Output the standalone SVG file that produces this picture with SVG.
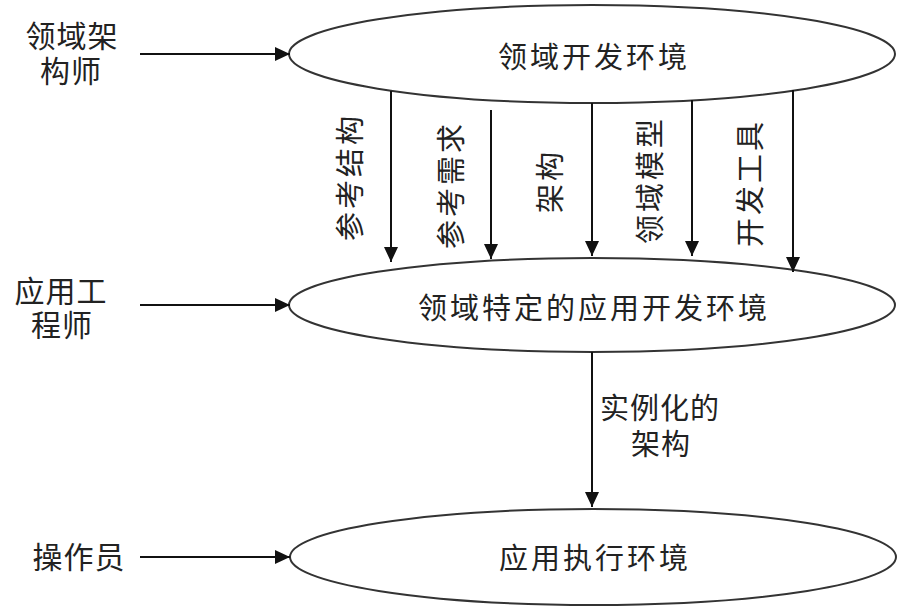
<svg xmlns="http://www.w3.org/2000/svg" width="909" height="612" viewBox="0 0 909 612">
<style>
.t{font-family:"Noto Sans CJK SC","Noto Sans",sans-serif;font-size:29px;fill:#222;letter-spacing:3px;text-anchor:middle;dominant-baseline:central}
.l{font-size:30px;letter-spacing:1px}
.e{fill:#fff;stroke:#333;stroke-width:2}
.c{stroke:#111;stroke-width:2;fill:none}
</style>
<defs>
<marker id="ah" markerUnits="userSpaceOnUse" markerWidth="15" markerHeight="14" refX="15" refY="7" orient="auto">
<path d="M0,0 L15,7 L0,14 z" fill="#111"/>
</marker>
</defs>
<rect width="909" height="612" fill="#fff"/>
<g id="n-top">
<ellipse class="e" cx="592" cy="54" rx="303" ry="49"/>
<text class="t" x="594" y="55">领域开发环境</text>
</g>
<g id="n-mid">
<ellipse class="e" cx="592" cy="305" rx="303" ry="47"/>
<text class="t" x="594" y="306">领域特定的应用开发环境</text>
</g>
<g id="n-bot">
<ellipse class="e" cx="593" cy="557" rx="303" ry="48"/>
<text class="t" x="595" y="556">应用执行环境</text>
</g>
<g id="n-arch">
<text class="t l"><tspan x="72" y="34">领域架</tspan><tspan x="71" y="69">构师</tspan></text>
</g>
<g id="n-eng">
<text class="t l"><tspan x="61" y="289">应用工</tspan><tspan x="62" y="323">程师</tspan></text>
</g>
<g id="n-op">
<text class="t l" x="79" y="555">操作员</text>
</g>
<g id="connectors">
<line class="c" x1="140" y1="54" x2="290" y2="54" marker-end="url(#ah)"/>
<line class="c" x1="140" y1="305" x2="290" y2="305" marker-end="url(#ah)"/>
<line class="c" x1="140" y1="557" x2="290" y2="557" marker-end="url(#ah)"/>
<line class="c" x1="391" y1="91" x2="391" y2="262" marker-end="url(#ah)"/>
<line class="c" x1="491" y1="110" x2="491" y2="259" marker-end="url(#ah)"/>
<line class="c" x1="592" y1="103" x2="592" y2="256" marker-end="url(#ah)"/>
<line class="c" x1="692" y1="100" x2="692" y2="256" marker-end="url(#ah)"/>
<line class="c" x1="793" y1="90" x2="793" y2="272" marker-end="url(#ah)"/>
<line class="c" x1="592" y1="352" x2="592" y2="507" marker-end="url(#ah)"/>
<text class="t" transform="translate(348,177) rotate(-90)">参考结构</text>
<text class="t" transform="translate(449,185) rotate(-90)">参考需求</text>
<text class="t" transform="translate(548,181) rotate(-90)">架构</text>
<text class="t" transform="translate(648,180) rotate(-90)">领域模型</text>
<text class="t" transform="translate(748,183) rotate(-90)">开发工具</text>
<text class="t" style="letter-spacing:1px"><tspan x="660" y="406">实例化的</tspan><tspan x="661" y="442">架构</tspan></text>
</g>
</svg>
